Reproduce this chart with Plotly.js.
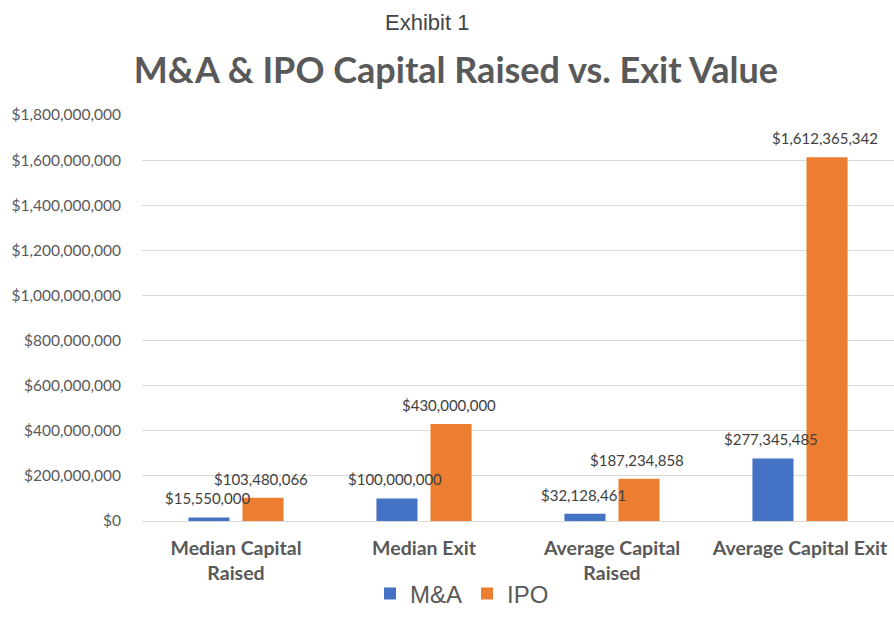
<!DOCTYPE html>
<html>
<head>
<meta charset="utf-8">
<script src="https://cdn.plot.ly/plotly-3.0.1.min.js"></script>
<style>html,body{margin:0;padding:0;background:#fff;}#chart{width:894px;height:633px;}</style>
</head>
<body>
<div id="chart"></div>
<script>
const categories = ["Median Capital<br>Raised", "Median Exit", "Average Capital<br>Raised", "Average Capital Exit"];
const maValues = [15550000, 100000000, 32128461, 277345485];
const ipoValues = [103480066, 430000000, 187234858, 1612365342];
const seriesNames = ["M&A", "IPO"];
const yTickVals = [0, 200000000, 400000000, 600000000, 800000000, 1000000000, 1200000000, 1400000000, 1600000000, 1800000000];

const blue = "#4472C4", orange = "#ED7D31";
const labelFont = {family: "Lato, sans-serif", size: 15, color: "#404040"};

function fmt(v){ return "$" + v.toLocaleString("en-US"); }

const traces = [
  {type: "bar", name: seriesNames[0], x: categories, y: maValues, marker: {color: blue}, hoverinfo: "none"},
  {type: "bar", name: seriesNames[1], x: categories, y: ipoValues, marker: {color: orange}, hoverinfo: "none"}
];

const plotH = 633 - 115 - 112;
const annotations = [];
[[maValues, -27], [ipoValues, 27]].forEach(([vals, xs]) => {
  vals.forEach((v, i) => {
    annotations.push({x: categories[i], y: v, xref: "x", yref: "y", text: fmt(v), showarrow: false,
      xshift: xs - 2, yshift: 19, font: labelFont});
  });
});
annotations.push({x: (427 - 142) / 752, y: (633 - 112 - 22) / plotH, xref: "paper", yref: "paper",
  xanchor: "center", yanchor: "middle",
  text: "Exhibit 1", showarrow: false, font: {family: "Liberation Sans, Arial, sans-serif", size: 22, color: "#444444"}});

const layout = {
  width: 894, height: 633,
  margin: {l: 142, r: 0, t: 115, b: 112},
  paper_bgcolor: "#ffffff", plot_bgcolor: "#ffffff",
  title: {text: "M&A & IPO Capital Raised vs. Exit Value", x: 0.51, xanchor: "center", y: 0.889, yanchor: "middle",
    font: {family: "Lato, sans-serif", size: 36, weight: "bold", color: "#595959"}},
  barmode: "group", bargap: 0.425, bargroupgap: 0.24,
  showlegend: true,
  legend: {orientation: "h", x: (462 - 142) / 752, xanchor: "center", y: -(594 - 521) / plotH, yanchor: "middle",
    bgcolor: "rgba(0,0,0,0)",
    font: {family: "Liberation Sans, Arial, sans-serif", size: 24, color: "#595959"}, itemwidth: 30, traceorder: "normal"},
  xaxis: {type: "category", showgrid: false, zeroline: false, showline: false, ticks: "",
    tickfont: {family: "Lato, sans-serif", size: 19.5, weight: "bold", color: "#595959"}, ticklabelstandoff: 13},
  yaxis: {range: [0, 1800000000], tickvals: yTickVals, tickformat: "$,", showgrid: true, gridcolor: "#d9d9d9", gridwidth: 1,
    zeroline: true, zerolinecolor: "#d9d9d9", showline: false, ticks: "",
    tickfont: {family: "Lato, sans-serif", size: 15.5, color: "#595959"}, ticklabelstandoff: 20},
  annotations: annotations
};

Plotly.newPlot("chart", traces, layout, {displayModeBar: false, staticPlot: true});
</script>
</body>
</html>
